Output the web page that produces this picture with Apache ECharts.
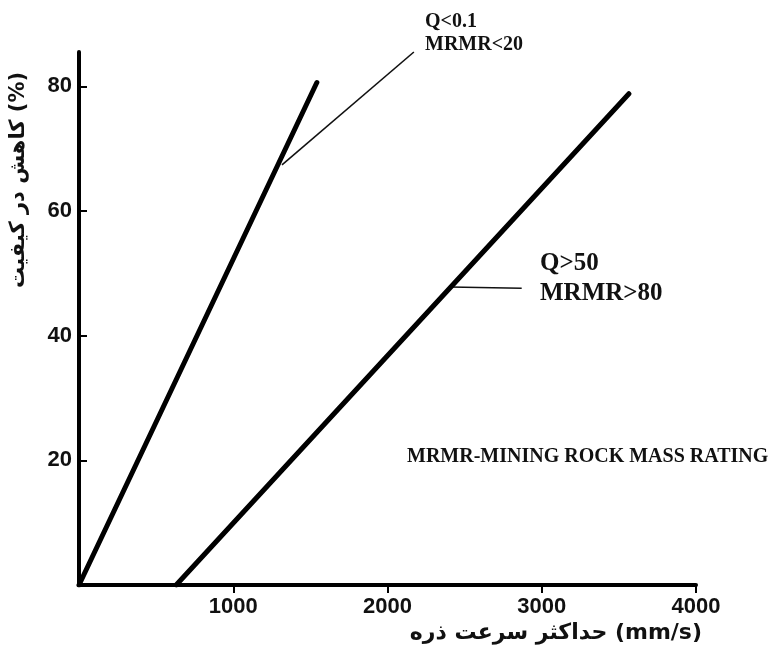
<!DOCTYPE html>
<html>
<head>
<meta charset="utf-8">
<style>html,body{margin:0;padding:0;background:#fff;}#c{width:780px;height:657px;}</style>
<script src="https://cdn.jsdelivr.net/npm/echarts@6/dist/echarts.min.js"></script>
</head>
<body>
<div id="c"></div>
<script>
// Data
var xTicks = [0, 1000, 2000, 3000, 4000];
var yTicks = [0, 20, 40, 60, 80];
var lowQualityLine = [[0, 0], [1542, 80.6]];      // Q<0.1, MRMR<20
var highQualityLine = [[630, 0], [3565, 78.8]];   // Q>50, MRMR>80
var leaderLow = [[1316, 67.4], [2171, 85.5]];
var leaderHigh = [[2405, 47.8], [2870, 47.6]];
var xName = 'حداکثر سرعت ذره (mm/s)';
var yName = 'کاهش در کیفیت (%)';
var labelLow = ['Q<0.1', 'MRMR<20'];
var labelHigh = ['Q>50', 'MRMR>80'];
var noteText = 'MRMR-MINING ROCK MASS RATING';

var chart = echarts.init(document.getElementById('c'), null, {renderer: 'canvas'});
var tickFont = {fontFamily: '"Liberation Sans", Arial, sans-serif', fontWeight: 'bold', fontSize: 22, color: '#111'};
var serifBold = '"Liberation Serif", "Times New Roman", serif';

chart.setOption({
  backgroundColor: '#fff',
  animation: false,
  grid: {left: 79, right: 84, top: 52, bottom: 72},
  xAxis: {
    type: 'value', min: xTicks[0], max: xTicks[xTicks.length - 1], interval: 1000,
    axisLine: {lineStyle: {color: '#000', width: 4}},
    axisTick: {show: true, inside: false, length: 8, lineStyle: {color: '#000', width: 2},
               customValues: xTicks.slice(1)},
    axisLabel: Object.assign({margin: 11, formatter: function (v) { return v === 0 ? '' : String(v); }}, tickFont),
    splitLine: {show: false}
  },
  yAxis: {
    type: 'value', min: yTicks[0], max: 85.5, interval: 20,
    axisLine: {onZero: false, lineStyle: {color: '#000', width: 4}},
    axisTick: {show: true, inside: true, length: 8, lineStyle: {color: '#000', width: 2},
               customValues: yTicks.slice(1)},
    axisLabel: Object.assign({margin: 7, showMaxLabel: false, formatter: function (v) { return v === 0 ? '' : String(v); }}, tickFont),
    splitLine: {show: false}
  },
  series: [
    {type: 'line', data: lowQualityLine, symbol: 'none', lineStyle: {color: '#000', width: 5, cap: 'round'}, z: 3},
    {type: 'line', data: highQualityLine, symbol: 'none', lineStyle: {color: '#000', width: 5, cap: 'round'}, z: 3},
    {type: 'line', data: leaderLow, symbol: 'none', clip: false, lineStyle: {color: '#111', width: 1.6}, z: 2},
    {type: 'line', data: leaderHigh, symbol: 'none', clip: false, lineStyle: {color: '#111', width: 1.6}, z: 2}
  ],
  graphic: [
    {type: 'text', left: 425, top: 10, style: {text: labelLow.join('\n'), font: 'bold 20px ' + serifBold, fill: '#111', lineHeight: 23}},
    {type: 'text', left: 540, top: 249, style: {text: labelHigh.join('\n'), font: 'bold 25px ' + serifBold, fill: '#111', lineHeight: 30}},
    {type: 'text', left: 407, top: 447, style: {text: noteText, font: 'bold 20px ' + serifBold, fill: '#111'}},
    {type: 'text', right: 78, top: 622, style: {text: xName, font: 'bold 22px "DejaVu Sans", "Liberation Sans", sans-serif', fill: '#111'}},
    {type: 'text', x: 19, y: 180, rotation: Math.PI / 2,
     style: {text: yName, font: 'bold 21px "DejaVu Sans", "Liberation Sans", sans-serif', fill: '#111', align: 'center', verticalAlign: 'middle'}}
  ]
});
</script>
</body>
</html>
